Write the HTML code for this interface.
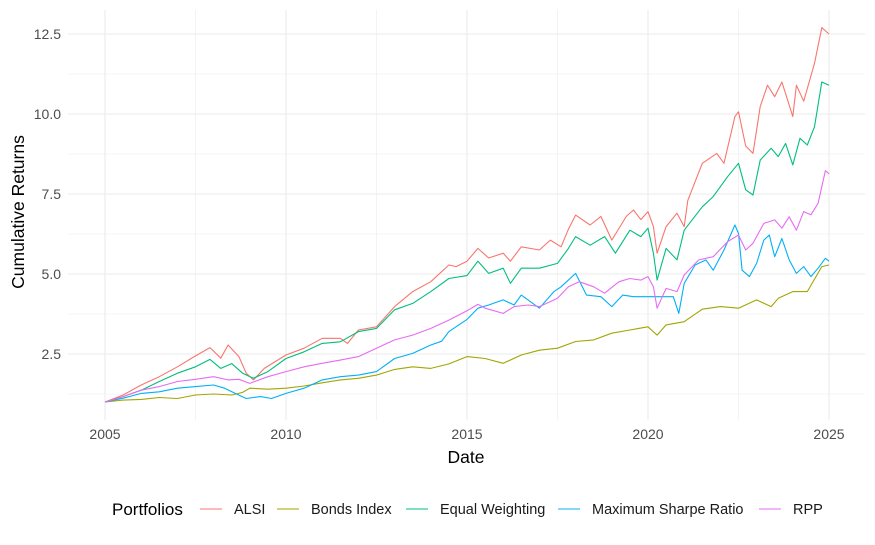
<!DOCTYPE html>
<html><head><meta charset="utf-8"><style>
body{margin:0;background:#fff;font-family:"Liberation Sans",sans-serif}
svg text{font-family:"Liberation Sans",sans-serif}
</style></head><body>
<svg id="chart" width="875" height="540" xmlns="http://www.w3.org/2000/svg">
<g id="grid"></g>
<g id="series"></g>
<g id="axes"></g>
<text x="466" y="463" font-size="17.5" fill="#000" text-anchor="middle">Date</text>
<text transform="translate(24,212) rotate(-90)" font-size="17.5" fill="#000" text-anchor="middle">Cumulative Returns</text>
<g id="legend"></g>
</svg>
<script>
const xTicks=[2005,2010,2015,2020,2025];
const yTicks=[2.5,5.0,7.5,10.0,12.5];
const yTickLabels=["2.5","5.0","7.5","10.0","12.5"];
const seriesNames=["ALSI","Bonds Index","Equal Weighting","Maximum Sharpe Ratio","RPP"];
const seriesColors=["#F8766D","#A3A500","#00BF7D","#00B0F6","#E76BF3"];
const alsiDates=[2005,2005.5,2006,2006.5,2007,2007.5,2007.9,2008.2,2008.4,2008.7,2008.9,2009.1,2009.4,2010,2010.5,2011,2011.5,2011.7,2012,2012.5,2013,2013.5,2014,2014.5,2014.7,2015,2015.3,2015.6,2016,2016.2,2016.5,2017,2017.3,2017.6,2017.8,2018,2018.4,2018.7,2019,2019.4,2019.6,2019.8,2020,2020.15,2020.25,2020.5,2020.8,2021,2021.1,2021.5,2021.9,2022.1,2022.4,2022.5,2022.7,2022.9,2023.1,2023.3,2023.5,2023.7,2024,2024.1,2024.3,2024.6,2024.8,2025];
const alsiValues=[1.0,1.22,1.53,1.79,2.1,2.44,2.7,2.37,2.78,2.42,1.9,1.69,2.05,2.47,2.68,2.99,2.99,2.83,3.25,3.35,3.98,4.45,4.76,5.28,5.23,5.4,5.8,5.5,5.65,5.4,5.85,5.75,6.06,5.85,6.4,6.84,6.53,6.8,6.06,6.8,7.0,6.7,6.95,6.48,5.65,6.48,6.9,6.48,7.3,8.46,8.77,8.46,9.92,10.07,9.0,8.77,10.23,10.9,10.54,11.0,9.92,10.9,10.4,11.58,12.7,12.5];
const bondsDates=[2005,2005.5,2006,2006.5,2007,2007.5,2008,2008.5,2008.8,2009,2009.5,2010,2010.5,2011,2011.5,2012,2012.5,2013,2013.5,2014,2014.5,2015,2015.5,2016,2016.5,2017,2017.5,2018,2018.5,2019,2019.5,2020,2020.25,2020.5,2021,2021.5,2022,2022.5,2023,2023.4,2023.6,2024,2024.4,2024.8,2025];
const bondsValues=[1.0,1.06,1.08,1.14,1.11,1.22,1.25,1.22,1.3,1.43,1.4,1.43,1.5,1.6,1.69,1.74,1.84,2.02,2.1,2.05,2.19,2.42,2.36,2.21,2.47,2.62,2.68,2.89,2.94,3.15,3.25,3.35,3.09,3.41,3.51,3.9,3.98,3.93,4.19,3.98,4.24,4.45,4.45,5.23,5.28];
const ewDates=[2005,2005.5,2006,2006.5,2007,2007.5,2007.9,2008.2,2008.5,2008.8,2009.1,2009.5,2010,2010.5,2011,2011.5,2012,2012.5,2013,2013.5,2014,2014.5,2015,2015.3,2015.6,2016,2016.2,2016.5,2017,2017.5,2017.8,2018,2018.4,2018.8,2019.1,2019.5,2019.8,2020,2020.15,2020.25,2020.5,2020.8,2021,2021.5,2021.8,2022.2,2022.5,2022.7,2022.9,2023.1,2023.4,2023.6,2023.8,2024,2024.2,2024.4,2024.6,2024.8,2025];
const ewValues=[1.0,1.17,1.37,1.64,1.9,2.1,2.33,2.05,2.2,1.9,1.74,1.95,2.36,2.57,2.83,2.88,3.2,3.3,3.88,4.08,4.45,4.86,4.95,5.4,5.02,5.18,4.71,5.18,5.18,5.33,5.8,6.17,5.9,6.17,5.65,6.37,6.17,6.43,5.65,4.81,5.8,5.44,6.37,7.1,7.42,8.04,8.46,7.63,7.47,8.56,8.93,8.67,9.08,8.41,9.24,9.03,9.6,11.0,10.9];
const msrDates=[2005,2005.5,2006,2006.5,2007,2007.5,2008,2008.3,2008.6,2008.9,2009.3,2009.6,2010,2010.5,2011,2011.5,2012,2012.5,2013,2013.5,2014,2014.3,2014.5,2015,2015.3,2015.6,2016,2016.3,2016.5,2017,2017.4,2017.6,2018,2018.3,2018.7,2019,2019.3,2019.6,2019.7,2020.5,2020.7,2020.85,2021,2021.3,2021.6,2021.8,2022.1,2022.4,2022.5,2022.6,2022.8,2023,2023.2,2023.35,2023.5,2023.7,2023.9,2024.1,2024.3,2024.5,2024.7,2024.9,2025];
const msrValues=[1.0,1.12,1.27,1.32,1.43,1.48,1.53,1.43,1.27,1.11,1.17,1.11,1.27,1.43,1.69,1.79,1.84,1.95,2.36,2.52,2.78,2.9,3.2,3.58,3.93,4.03,4.19,4.03,4.34,3.93,4.45,4.6,5.02,4.34,4.29,3.98,4.34,4.29,4.29,4.29,4.29,3.77,4.71,5.28,5.44,5.12,5.75,6.53,6.27,5.12,4.92,5.33,6.06,6.22,5.54,6.11,5.44,5.02,5.23,4.92,5.18,5.49,5.4];
const rppDates=[2005,2005.5,2006,2006.5,2007,2007.5,2008,2008.4,2008.7,2009,2009.5,2010,2010.5,2011,2011.5,2012,2012.5,2013,2013.5,2014,2014.5,2015,2015.3,2015.5,2016,2016.3,2016.7,2017,2017.5,2017.8,2018.1,2018.5,2018.8,2019.2,2019.5,2019.8,2020,2020.15,2020.25,2020.5,2020.8,2021,2021.4,2021.8,2022.2,2022.5,2022.7,2022.9,2023.2,2023.5,2023.7,2023.9,2024.1,2024.3,2024.5,2024.7,2024.9,2025];
const rppValues=[1.0,1.17,1.37,1.48,1.64,1.71,1.79,1.69,1.71,1.58,1.79,1.95,2.1,2.21,2.31,2.42,2.68,2.94,3.09,3.3,3.56,3.85,4.05,3.93,3.77,3.98,4.03,3.98,4.24,4.6,4.76,4.6,4.4,4.76,4.86,4.81,4.92,4.6,3.93,4.55,4.45,4.97,5.44,5.54,6.01,6.22,5.75,5.96,6.58,6.69,6.43,6.79,6.37,6.95,6.85,7.21,8.23,8.13];
const allDates=[alsiDates,bondsDates,ewDates,msrDates,rppDates];
const allValues=[alsiValues,bondsValues,ewValues,msrValues,rppValues];

const NS="http://www.w3.org/2000/svg";
const L=68,R=865,T=10,B=420;
const xs=d=>105+(d-2005)*36.2;
const ys=v=>402-(v-1)*32;
function mk(tag,attrs,parent){const e=document.createElementNS(NS,tag);for(const k in attrs)e.setAttribute(k,attrs[k]);parent.appendChild(e);return e;}
const grid=document.getElementById('grid');
for(let v=1.25;v<=12.6;v+=1.25){
  const major=Math.abs(v/2.5-Math.round(v/2.5))<1e-6;
  const l=mk('line',{x1:L,x2:R,y1:ys(v),y2:ys(v),stroke:'#ebebeb','stroke-width':major?1.1:0.6},grid);
  
  
}
for(let d=2005;d<=2025;d+=2.5){
  const major=d%5===0;
  const l=mk('line',{x1:xs(d),x2:xs(d),y1:T,y2:B,stroke:'#ebebeb','stroke-width':major?1.1:0.6},grid);
  
  
}
const axes=document.getElementById('axes');
xTicks.forEach(d=>{
  const t=mk('text',{x:xs(d),y:439,'font-size':14,fill:'#4d4d4d','text-anchor':'middle'},axes);
  t.textContent=d;
  
  
});
yTicks.forEach((v,i)=>{
  const t=mk('text',{x:61,y:ys(v)+5,'font-size':14,fill:'#4d4d4d','text-anchor':'end'},axes);
  t.textContent=yTickLabels[i];
  
  
});
const sg=document.getElementById('series');
allDates.forEach((ds,i)=>{
  const pts=ds.map((d,j)=>xs(d).toFixed(1)+','+ys(allValues[i][j]).toFixed(1)).join(' ');
  const p=mk('polyline',{points:pts,fill:'none',stroke:seriesColors[i],'stroke-width':1.1,'stroke-linejoin':'round'},sg);
  
  
});
const lg=document.getElementById('legend');
const lt=mk('text',{x:112,y:515,'font-size':17,fill:'#000'},lg);
lt.textContent='Portfolios';


const keyX=[200,277,406,558,759];
seriesNames.forEach((n,i)=>{
  const k=mk('line',{x1:keyX[i],x2:keyX[i]+22,y1:509,y2:509,stroke:seriesColors[i],'stroke-width':1},lg);
  
  
  const t=mk('text',{x:keyX[i]+34,y:514,'font-size':14.5,fill:'#1a1a1a'},lg);
  t.textContent=n;
  
  
});
</script>
</body></html>
